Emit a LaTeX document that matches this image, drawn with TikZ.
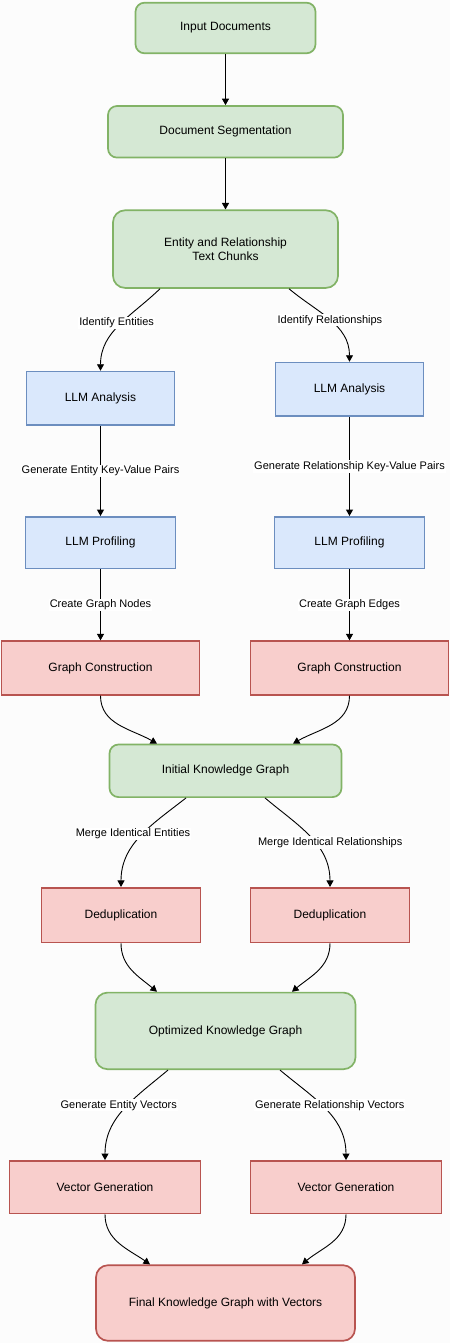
\documentclass[tikz,border=0pt]{standalone}
\usepackage{fontspec}
\setmainfont{Liberation Sans}
\usepackage{xcolor}
\usepackage{tikz}
\usetikzlibrary{positioning,arrows.meta}

\definecolor{greenfill}{HTML}{D5E8D4}
\definecolor{greenline}{HTML}{82B366}
\definecolor{bluefill}{HTML}{DAE8FC}
\definecolor{blueline}{HTML}{6C8EBF}
\definecolor{redfill}{HTML}{F8CECC}
\definecolor{redline}{HTML}{B85450}
\definecolor{paper}{HTML}{FCFCFC}

\tikzset{
  box/.style={draw, line width=1.7pt, inner sep=0pt, align=center, font=\fontsize{12}{14}\selectfont},
  greenbox/.style={box, fill=greenfill, draw=greenline, rounded corners=9pt},
  bluebox/.style={box, fill=bluefill, draw=blueline},
  redbox/.style={box, fill=redfill, draw=redline},
  edgelabel/.style={fill=white, inner sep=1pt, font=\fontsize{11}{13}\selectfont},
  flow/.style={-{Triangle[length=6.5pt,width=7pt]}, line width=0.9pt},
}

\begin{document}
\begin{tikzpicture}[x=1pt,y=1pt]
  \fill[paper] (0,0) rectangle (450,-1343);
  \useasboundingbox (0,0) rectangle (450,-1343);

  \node[greenbox, minimum width=180pt, minimum height=50.6pt] (input) at (225.5,-28) {Input Documents};
  \node[greenbox, minimum width=235pt, minimum height=51.6pt, below=51pt of input] (seg) {Document Segmentation};
  \node[greenbox, minimum width=225pt, minimum height=77.6pt, rounded corners=12pt, below=51pt of seg] (chunks) {Entity and Relationship\\Text Chunks};
  \node[bluebox, minimum width=148pt, minimum height=53.6pt, below=82pt of chunks, xshift=-125pt] (anaL) {LLM Analysis};
  \node[bluebox, minimum width=148pt, minimum height=53.6pt, below=73pt of chunks, xshift=124pt] (anaR) {LLM Analysis};
  \node[bluebox, minimum width=150pt, minimum height=51.6pt, below=90pt of anaL] (profL) {LLM Profiling};
  \node[bluebox, minimum width=150pt, minimum height=51.6pt, below=99pt of anaR] (profR) {LLM Profiling};
  \node[redbox, minimum width=198pt, minimum height=53.6pt, below=71pt of profL] (consL) {Graph Construction};
  \node[redbox, minimum width=198pt, minimum height=53.6pt, below=71pt of profR] (consR) {Graph Construction};
  \node[greenbox, minimum width=232pt, minimum height=52.6pt, below=48pt of consL, xshift=125pt] (init) {Initial Knowledge Graph};
  \node[redbox, minimum width=159pt, minimum height=54.6pt, below=89pt of init, xshift=-104.5pt] (dedupL) {Deduplication};
  \node[redbox, minimum width=159pt, minimum height=54.6pt, below=89pt of init, xshift=104.5pt] (dedupR) {Deduplication};
  \node[greenbox, minimum width=260pt, minimum height=76.6pt, rounded corners=12pt, below=48.5pt of dedupL, xshift=104.5pt] (opt) {Optimized Knowledge Graph};
  \node[redbox, minimum width=191pt, minimum height=52.6pt, below=90pt of opt, xshift=-120.5pt] (vecL) {Vector Generation};
  \node[redbox, minimum width=191pt, minimum height=52.6pt, below=90pt of opt, xshift=120.5pt] (vecR) {Vector Generation};
  \node[redbox, minimum width=259pt, minimum height=75.6pt, rounded corners=12pt, below=50pt of vecL, xshift=120.5pt] (final) {Final Knowledge Graph with Vectors};

  \draw[flow] (input) -- (seg);
  \draw[flow] (seg) -- (chunks);
  \draw[flow] ([xshift=-65.5pt]chunks.south) to[out=-136, in=90] node[edgelabel, pos=0.47, xshift=-5pt] {Identify Entities} (anaL.north);
  \draw[flow] ([xshift=63.5pt]chunks.south) to[out=-40, in=90] node[edgelabel, pos=0.5] {Identify Relationships} (anaR.north);
  \draw[flow] (anaL) -- node[edgelabel] {Generate Entity Key-Value Pairs} (profL);
  \draw[flow] (anaR) -- node[edgelabel] {Generate Relationship Key-Value Pairs} (profR);
  \draw[flow] (profL) -- node[edgelabel] {Create Graph Nodes} (consL);
  \draw[flow] (profR) -- node[edgelabel] {Create Graph Edges} (consR);
  \draw[flow] (consL.south) to[out=-90, in=150] ([xshift=-68.5pt]init.north);
  \draw[flow] (consR.south) to[out=-90, in=30] ([xshift=67.5pt]init.north);
  \draw[flow] ([xshift=-39.5pt]init.south) to[out=-142, in=90] node[edgelabel, pos=0.47, xshift=-10pt] {Merge Identical Entities} (dedupL.north);
  \draw[flow] ([xshift=39.5pt]init.south) to[out=-40, in=90] node[edgelabel, pos=0.57, xshift=15.5pt] {Merge Identical Relationships} (dedupR.north);
  \draw[flow] (dedupL.south) to[out=-90, in=140] ([xshift=-68.5pt]opt.north);
  \draw[flow] (dedupR.south) to[out=-90, in=40] ([xshift=66.5pt]opt.north);
  \draw[flow] ([xshift=-57.5pt]opt.south) to[out=-140, in=90] node[edgelabel, pos=0.45, xshift=-9pt] {Generate Entity Vectors} (vecL.north);
  \draw[flow] ([xshift=54.5pt]opt.south) to[out=-40, in=90] node[edgelabel, pos=0.45, xshift=8pt] {Generate Relationship Vectors} (vecR.north);
  \draw[flow] (vecL.south) to[out=-90, in=145] ([xshift=-75.5pt]final.north);
  \draw[flow] (vecR.south) to[out=-90, in=40] ([xshift=76.5pt]final.north);
\end{tikzpicture}
\end{document}
